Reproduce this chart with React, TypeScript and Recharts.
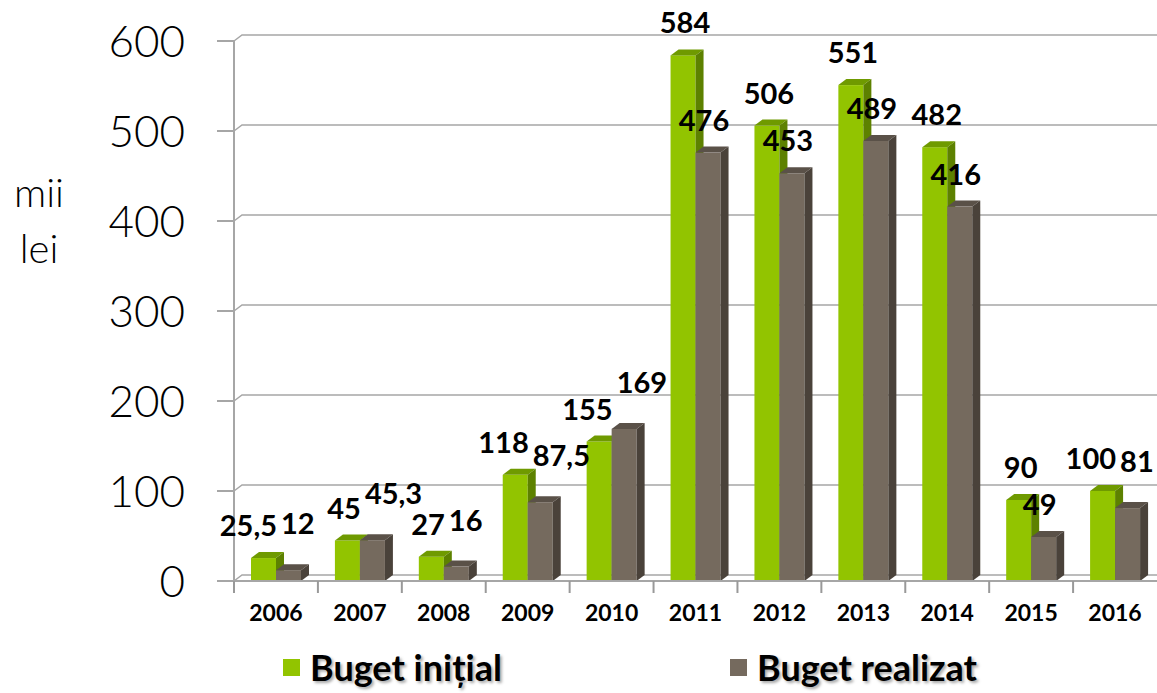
import { Bar, BarChart, CartesianGrid, LabelList, Legend, XAxis, YAxis } from 'recharts'

const years = ['2006', '2007', '2008', '2009', '2010', '2011', '2012', '2013', '2014', '2015', '2016']
const bugetInitial = [25.5, 45, 27, 118, 155, 584, 506, 551, 482, 90, 100]
const bugetRealizat = [12, 45.3, 16, 87.5, 169, 476, 453, 489, 416, 49, 81]
const yTicks = [0, 100, 200, 300, 400, 500, 600]

const data = years.map((year, i) => ({
  year,
  initial: bugetInitial[i],
  realizat: bugetRealizat[i],
}))

const DX = 8
const DY = 6
const FONT = "Lato, 'Open Sans', sans-serif"

function shade(front: string): { top: string; side: string } {
  if (front === '#92c400') return { top: '#6f9a00', side: '#5d8100' }
  return { top: '#5a5148', side: '#4a423a' }
}

function Bar3D(props: any) {
  const { x, y, width, height, fill } = props
  if (height == null || height <= 0) return null
  const { top, side } = shade(fill)
  return (
    <g>
      <rect x={x} y={y} width={width} height={height} fill={fill} />
      <polygon
        points={`${x},${y} ${x + DX},${y - DY} ${x + width + DX},${y - DY} ${x + width},${y}`}
        fill={top}
      />
      <polygon
        points={`${x + width},${y} ${x + width + DX},${y - DY} ${x + width + DX},${y + height - DY} ${x + width},${y + height}`}
        fill={side}
      />
    </g>
  )
}

function fmt(v: number): string {
  return String(v).replace('.', ',')
}

// labels sit side by side (grey one a bit higher) when the two bars of a year are close in height
function makeLabel(series: 'initial' | 'realizat') {
  return function ValueLabel(props: any) {
    const { x, y, width, height, value, index } = props
    const other = series === 'initial' ? bugetRealizat[index] : bugetInitial[index]
    const pxPerUnit = value > 0 ? height / value : 0
    const close = Math.abs(other - value) * pxPerUnit < 32
    let tx = x + width / 2 + (series === 'realizat' ? -4 : 2)
    let ty = y - 22
    let anchor: 'middle' | 'end' | 'start' = 'middle'
    if (close) {
      if (series === 'initial') {
        tx = x + width + 1
        anchor = 'end'
      } else {
        tx = x + 5
        ty = y - 36
        anchor = 'start'
      }
    }
    return (
      <text
        x={tx}
        y={ty}
        textAnchor={anchor}
        fontFamily={FONT}
        fontWeight={700}
        fontSize={29}
        fill="#000"
      >
        {fmt(value)}
      </text>
    )
  }
}

const InitialLabel = makeLabel('initial')
const RealizatLabel = makeLabel('realizat')

function GridLine(props: any) {
  const { x1, y1, x2 } = props
  return (
    <polyline
      points={`${x1},${y1} ${x1 + DX},${y1 - DY} ${x2},${y1 - DY}`}
      fill="none"
      stroke="#a6a6a6"
      strokeWidth={1.5}
    />
  )
}

function XTick(props: any) {
  const { x, y, payload } = props
  const half = payload.offset ?? 42
  return (
    <g>
      <line x1={x - half} y1={y - 8} x2={x - half} y2={y + 4} stroke="#999" strokeWidth={2} />
      <text
        x={x}
        y={y + 32}
        textAnchor="middle"
        fontFamily={FONT}
        fontWeight={700}
        fontSize={23}
        fill="#000"
      >
        {payload.value}
      </text>
    </g>
  )
}

function LegendContent() {
  const items = [
    { name: 'Buget inițial', color: '#92c400', left: 283 },
    { name: 'Buget realizat', color: '#756a5e', left: 730 },
  ]
  return (
    <div style={{ position: 'relative', width: 1157, height: 44 }}>
      {items.map((it) => (
        <div
          key={it.name}
          style={{
            position: 'absolute',
            left: it.left,
            top: 0,
            display: 'flex',
            alignItems: 'center',
            fontFamily: FONT,
            fontWeight: 700,
            fontSize: 36,
            color: '#000',
            textShadow: '2px 2px 3px rgba(0,0,0,0.35)',
          }}
        >
          <span style={{ width: 17, height: 17, background: it.color, marginRight: 10, display: 'inline-block' }} />
          {it.name}
        </div>
      ))}
    </div>
  )
}

export default function App() {
  return (
    <div style={{ position: 'relative', width: 1157, height: 693, background: '#fff' }}>
      <style>{'body{margin:0}'}</style>
      <div
        style={{
          position: 'absolute',
          left: 14,
          top: 164,
          fontFamily: FONT,
          fontSize: 40,
          fontWeight: 300,
          lineHeight: '56px',
          textAlign: 'center',
          color: '#000',
        }}
      >
        mii
        <br />
        lei
      </div>
      <BarChart
        width={1157}
        height={693}
        data={data}
        margin={{ top: 41, right: 0, left: 0, bottom: 0 }}
        barGap={0}
        barSize={25}
      >
        <CartesianGrid vertical={false} horizontal={GridLine} />
        <XAxis
          dataKey="year"
          height={64}
          axisLine={{ stroke: '#a6a6a6', strokeWidth: 2 }}
          tickLine={false}
          tick={XTick}
          interval={0}
        />
        <YAxis
          width={234}
          domain={[0, 600]}
          ticks={yTicks}
          axisLine={{ stroke: '#a6a6a6', strokeWidth: 2 }}
          tickLine={{ stroke: '#a6a6a6', strokeWidth: 2 }}
          tickSize={17}
          tickMargin={32}
          tick={{ fill: '#000', fontSize: 44, fontFamily: FONT, fontWeight: 300 }}
        />
        <Legend verticalAlign="bottom" height={48} content={LegendContent} wrapperStyle={{ left: 0, bottom: 0 }} />
        <Bar dataKey="initial" name="Buget inițial" fill="#92c400" shape={Bar3D} isAnimationActive={false}>
          <LabelList dataKey="initial" content={InitialLabel} />
        </Bar>
        <Bar dataKey="realizat" name="Buget realizat" fill="#756a5e" shape={Bar3D} isAnimationActive={false}>
          <LabelList dataKey="realizat" content={RealizatLabel} />
        </Bar>
      </BarChart>
    </div>
  )
}
